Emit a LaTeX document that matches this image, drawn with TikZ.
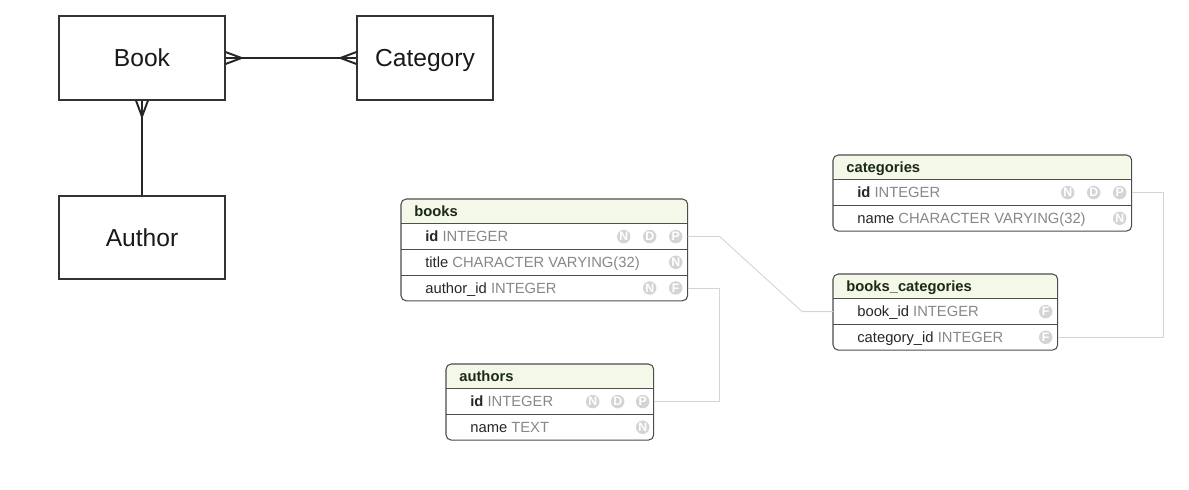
\documentclass[tikz,border=0pt]{standalone}
\usepackage{fontspec}
\setmainfont{Liberation Sans}
\usepackage{tikz}
\usetikzlibrary{arrows.meta}
\usetikzlibrary{fit}
\usetikzlibrary{positioning}
\usetikzlibrary{decorations.markings}

\definecolor{headfill}{RGB}{243,248,232}
\definecolor{headgreen}{RGB}{28,42,18}
\definecolor{typegray}{RGB}{135,135,135}
\definecolor{linkgray}{RGB}{212,212,212}
\definecolor{icongray}{RGB}{212,212,212}

\tikzset{
    entity/.style={
        rectangle, draw=black!80, line width=0.6pt, inner sep=0pt,
        text=black!90, text height=10pt, text depth=0pt,
        font=\fontsize{14}{16}\selectfont,
    },
    relation/.style={line width=1.1pt, draw=black!85},
    many start/.style={postaction={decorate, decoration={markings,
        mark=at position 0 with {\draw[line width=1.1pt, black!85] (0,0.12) -- (0.32,0) -- (0,-0.12);}}}},
    many end/.style={postaction={decorate, decoration={markings,
        mark=at position 1 with {\draw[line width=1.1pt, black!85] (0,0.12) -- (-0.32,0) -- (0,-0.12);}}}},
    tablehead/.style={
        rectangle, anchor=north west, inner sep=0pt,
        minimum height=0.48cm, fill=headfill, rounded corners=3pt,
    },
    tablerow/.style={
        rectangle, anchor=north west, inner sep=0pt,
        minimum height=0.5cm,
    },
    tableframe/.style={
        rectangle, inner sep=0pt, draw=black!70, line width=0.6pt,
        rounded corners=3pt,
    },
    headline/.style={draw=headgreen!80, line width=0.6pt},
    rowline/.style={draw=black!70, line width=0.6pt},
    headlabel/.style={
        anchor=west, xshift=0.26cm, inner sep=0pt,
        text height=6.5pt, text depth=0.5pt, text=headgreen,
        font=\fontsize{8.4}{10}\selectfont\bfseries,
    },
    rowtext/.style={
        anchor=west, xshift=0.48cm, inner sep=0pt,
        text height=6.5pt, text depth=0.5pt, text=black!85,
        font=\fontsize{8.4}{10}\selectfont,
    },
    keyicon/.style={
        circle, fill=icongray, text=white, minimum size=0.27cm, inner sep=0pt,
        text height=5pt, text depth=0pt,
        font=\fontsize{7}{7}\selectfont\bfseries,
    },
    link/.style={draw=linkgray, line width=0.5pt},
}

\begin{document}
\begin{tikzpicture}
        \useasboundingbox (0,0) rectangle (23.78,-9.78);

        % conceptual model
        \node (book) at(2.84,-1.16) [entity, minimum width=3.32cm, minimum height=1.68cm] {Book};
        \node (category) at(8.50,-1.16) [entity, minimum width=2.72cm, minimum height=1.68cm] {Category};
        \node (author) at(2.84,-4.75) [entity, minimum width=3.32cm, minimum height=1.66cm] {Author};

        \draw[relation, many start, many end] (book.east) -- (category.west);
        \draw[relation, many start] (book.south) -- (author.north);

        % books
        \node (books-head) at(8.02,-3.98) [tablehead, minimum width=5.72cm] {};
        \node (books-id) at(books-head.south west) [tablerow, minimum width=5.72cm] {};
        \node (books-title) at(books-id.south west) [tablerow, minimum width=5.72cm] {};
        \node (books-author) at(books-title.south west) [tablerow, minimum width=5.72cm] {};
        \draw[headline] (books-head.south west) -- (books-head.south east);
        \draw[rowline] (books-id.south west) -- (books-id.south east);
        \draw[rowline] (books-title.south west) -- (books-title.south east);
        \node (books) [tableframe, fit=(books-head)(books-author)] {};

        \node (books-label) at(books-head.west) [headlabel] {books};
        \node (books-id-text) at(books-id.west) [rowtext] {\textbf{id} \textcolor{typegray}{INTEGER}};
        \node (books-title-text) at(books-title.west) [rowtext] {title \textcolor{typegray}{CHARACTER VARYING(32)}};
        \node (books-author-text) at(books-author.west) [rowtext] {author\_id \textcolor{typegray}{INTEGER}};
        \node (books-id-n) at([xshift=-1.28cm]books-id.east) [keyicon] {N};
        \node (books-id-d) at([xshift=-0.76cm]books-id.east) [keyicon] {D};
        \node (books-id-p) at([xshift=-0.24cm]books-id.east) [keyicon] {P};
        \node (books-title-n) at([xshift=-0.24cm]books-title.east) [keyicon] {N};
        \node (books-author-n) at([xshift=-0.76cm]books-author.east) [keyicon] {N};
        \node (books-author-f) at([xshift=-0.24cm]books-author.east) [keyicon] {F};

        % authors
        \node (authors-head) at(8.92,-7.28) [tablehead, minimum width=4.14cm] {};
        \node (authors-id) at(authors-head.south west) [tablerow, minimum width=4.14cm] {};
        \node (authors-name) at(authors-id.south west) [tablerow, minimum width=4.14cm] {};
        \draw[headline] (authors-head.south west) -- (authors-head.south east);
        \draw[rowline] (authors-id.south west) -- (authors-id.south east);
        \node (authors) [tableframe, fit=(authors-head)(authors-name)] {};

        \node (authors-label) at(authors-head.west) [headlabel] {authors};
        \node (authors-id-text) at(authors-id.west) [rowtext] {\textbf{id} \textcolor{typegray}{INTEGER}};
        \node (authors-name-text) at(authors-name.west) [rowtext] {name \textcolor{typegray}{TEXT}};
        \node (authors-id-n) at([xshift=-1.22cm]authors-id.east) [keyicon] {N};
        \node (authors-id-d) at([xshift=-0.72cm]authors-id.east) [keyicon] {D};
        \node (authors-id-p) at([xshift=-0.22cm]authors-id.east) [keyicon] {P};
        \node (authors-name-n) at([xshift=-0.22cm]authors-name.east) [keyicon] {N};

        % categories
        \node (cats-head) at(16.66,-3.10) [tablehead, minimum width=5.96cm] {};
        \node (cats-id) at(cats-head.south west) [tablerow, minimum width=5.96cm] {};
        \node (cats-name) at(cats-id.south west) [tablerow, minimum width=5.96cm] {};
        \draw[headline] (cats-head.south west) -- (cats-head.south east);
        \draw[rowline] (cats-id.south west) -- (cats-id.south east);
        \node (cats) [tableframe, fit=(cats-head)(cats-name)] {};

        \node (cats-label) at(cats-head.west) [headlabel] {categories};
        \node (cats-id-text) at(cats-id.west) [rowtext] {\textbf{id} \textcolor{typegray}{INTEGER}};
        \node (cats-name-text) at(cats-name.west) [rowtext] {name \textcolor{typegray}{CHARACTER VARYING(32)}};
        \node (cats-id-n) at([xshift=-1.28cm]cats-id.east) [keyicon] {N};
        \node (cats-id-d) at([xshift=-0.76cm]cats-id.east) [keyicon] {D};
        \node (cats-id-p) at([xshift=-0.24cm]cats-id.east) [keyicon] {P};
        \node (cats-name-n) at([xshift=-0.24cm]cats-name.east) [keyicon] {N};

        % books_categories
        \node (bcat-head) at(16.66,-5.48) [tablehead, minimum width=4.48cm] {};
        \node (bcat-book) at(bcat-head.south west) [tablerow, minimum width=4.48cm] {};
        \node (bcat-cat) at(bcat-book.south west) [tablerow, minimum width=4.48cm] {};
        \draw[headline] (bcat-head.south west) -- (bcat-head.south east);
        \draw[rowline] (bcat-book.south west) -- (bcat-book.south east);
        \node (bcat) [tableframe, fit=(bcat-head)(bcat-cat)] {};

        \node (bcat-label) at(bcat-head.west) [headlabel] {books\_categories};
        \node (bcat-book-text) at(bcat-book.west) [rowtext] {book\_id \textcolor{typegray}{INTEGER}};
        \node (bcat-cat-text) at(bcat-cat.west) [rowtext] {category\_id \textcolor{typegray}{INTEGER}};
        \node (bcat-book-f) at([xshift=-0.24cm]bcat-book.east) [keyicon] {F};
        \node (bcat-cat-f) at([xshift=-0.24cm]bcat-cat.east) [keyicon] {F};

        % foreign keys
        \draw[link] (books-id.east) -- ++(0.64,0) -- ([xshift=-0.62cm]bcat-book.west) -- (bcat-book.west);
        \draw[link] (books-author.east) -- ++(0.64,0) |- (authors-id.east);
        \draw[link] (cats-id.east) -- ++(0.64,0) |- (bcat-cat.east);
    \end{tikzpicture}
\end{document}
